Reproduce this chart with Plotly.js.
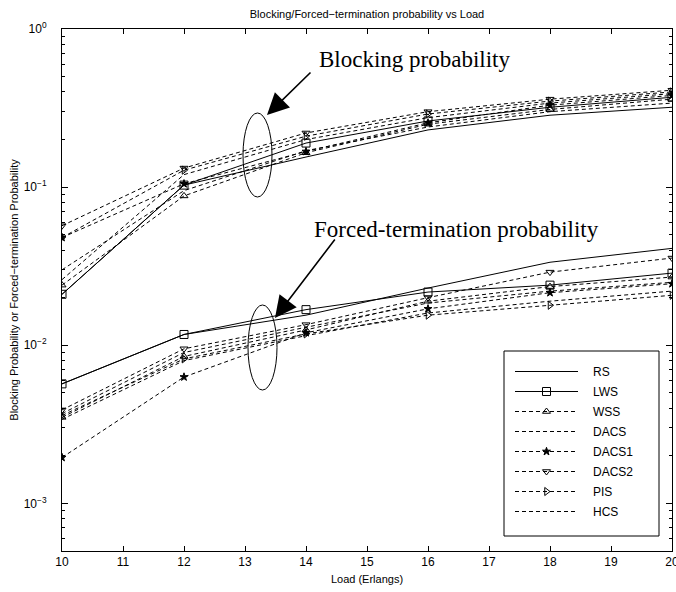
<!DOCTYPE html>
<html>
<head>
<meta charset="utf-8">
<script src="https://cdn.plot.ly/plotly-3.0.1.min.js"></script>
<style>html,body{margin:0;padding:0;background:#fff;}#chart{width:676px;height:592px;}</style>
</head>
<body>
<div id="chart"></div>
<script>
// ---- data ----
var load = [10, 12, 14, 16, 18, 20];
var schemes = ['RS', 'LWS', 'WSS', 'DACS', 'DACS1', 'DACS2', 'PIS', 'HCS'];

// Blocking probability
var blockRS    = [0.021, 0.103, 0.155, 0.230, 0.285, 0.320];
var blockLWS   = [0.021, 0.103, 0.190, 0.262, 0.320, 0.370];
var blockWSS   = [0.024, 0.088, 0.165, 0.250, 0.310, 0.360];
var blockDACS  = [0.030, 0.095, 0.170, 0.240, 0.300, 0.340];
var blockDACS1 = [0.048, 0.105, 0.168, 0.255, 0.330, 0.380];
var blockDACS2 = [0.057, 0.132, 0.220, 0.300, 0.360, 0.410];
var blockPIS   = [0.048, 0.128, 0.210, 0.290, 0.350, 0.400];
var blockHCS   = [0.026, 0.120, 0.200, 0.275, 0.340, 0.390];

// Forced-termination probability
var forcedRS    = [0.0057, 0.0117, 0.0155, 0.0230, 0.0335, 0.0410];
var forcedLWS   = [0.0057, 0.0117, 0.0168, 0.0217, 0.0240, 0.0286];
var forcedWSS   = [0.0035, 0.0085, 0.0125, 0.0190, 0.0235, 0.0270];
var forcedDACS  = [0.0037, 0.0090, 0.0130, 0.0185, 0.0220, 0.0250];
var forcedDACS1 = [0.00195, 0.0063, 0.0120, 0.0170, 0.0215, 0.0245];
var forcedDACS2 = [0.0039, 0.0095, 0.0135, 0.0200, 0.0290, 0.0356];
var forcedPIS   = [0.0036, 0.0082, 0.0118, 0.0155, 0.0179, 0.0207];
var forcedHCS   = [0.0034, 0.0080, 0.0115, 0.0160, 0.0190, 0.0220];

var yTickVals = [0.001, 0.01, 0.1, 1];
var yTickText = ['10<sup>\u22123</sup>', '10<sup>\u22122</sup>', '10<sup>\u22121</sup>', '10<sup>0</sup>'];
var xTickVals = [10, 11, 12, 13, 14, 15, 16, 17, 18, 19, 20];

// ---- styles ----
var DASH = '4px,3px';
var styles = {
  RS:    {dash: 'solid', symbol: null, size: 7},
  LWS:   {dash: 'solid', symbol: 'square-open', size: 8},
  WSS:   {dash: DASH, symbol: 'triangle-up-open', size: 7},
  DACS:  {dash: DASH, symbol: null, size: 7},
  DACS1: {dash: DASH, symbol: 'star', size: 6},
  DACS2: {dash: DASH, symbol: 'triangle-down-open', size: 7},
  PIS:   {dash: DASH, symbol: 'triangle-right-open', size: 7},
  HCS:   {dash: DASH, symbol: null, size: 7}
};
var blockSeries = [blockRS, blockLWS, blockWSS, blockDACS, blockDACS1, blockDACS2, blockPIS, blockHCS];
var forcedSeries = [forcedRS, forcedLWS, forcedWSS, forcedDACS, forcedDACS1, forcedDACS2, forcedPIS, forcedHCS];

var NB = '\u00a0\u00a0\u00a0';
function mk(name, ys, show) {
  var st = styles[name];
  var t = {
    x: load, y: ys, name: NB + name + NB + NB + NB, legendgroup: name, showlegend: show,
    type: 'scatter',
    mode: st.symbol ? 'lines+markers' : 'lines',
    line: {color: '#000', width: 1, dash: st.dash}
  };
  if (st.symbol) t.marker = {symbol: st.symbol, size: st.size, color: '#000', line: {color: '#000', width: 1}};
  return t;
}
var traces = [];
schemes.forEach(function (s, i) { traces.push(mk(s, blockSeries[i], true)); });
schemes.forEach(function (s, i) { traces.push(mk(s, forcedSeries[i], false)); });

var W = 676, H = 592, L = 62, R = 4, T = 29, B = 41;
var pw = W - L - R, ph = H - T - B;
function px(x) { return (x - L) / pw; }
function py(y) { return (H - B - y) / ph; }

var axisFont = {family: 'Liberation Sans, Arial, sans-serif', size: 12, color: '#000'};
var layout = {
  width: W, height: H,
  margin: {l: L, r: R, t: T, b: B},
  paper_bgcolor: '#fff', plot_bgcolor: '#fff',
  font: {family: 'Liberation Sans, Arial, sans-serif', size: 11, color: '#000'},
  title: {text: 'Blocking/Forced\u2212termination probability vs Load',
          font: {family: 'Liberation Sans, Arial, sans-serif', size: 11, color: '#000'},
          x: (L + pw / 2) / W, xanchor: 'center', y: 1 - 14 / H, yanchor: 'middle', yref: 'container'},
  xaxis: {
    range: [10, 20], tickvals: xTickVals, ticks: 'inside', ticklen: 5, tickcolor: '#000',
    showline: true, linecolor: '#000', linewidth: 1, mirror: 'ticks', showgrid: false, zeroline: false,
    tickfont: axisFont, ticklabeloverflow: 'allow',
    title: {text: 'Load (Erlangs)', font: {family: 'Liberation Sans, Arial, sans-serif', size: 11, color: '#000'}, standoff: 6}
  },
  yaxis: {
    type: 'log', range: [Math.log10(5e-4), 0],
    tickvals: yTickVals, ticktext: yTickText, ticks: 'inside', ticklen: 6, tickcolor: '#000',
    showline: true, linecolor: '#000', linewidth: 1, mirror: 'ticks', showgrid: false, zeroline: false,
    tickfont: axisFont, ticklabelstandoff: 12,
    minor: {ticks: 'inside', ticklen: 3, tickcolor: '#000', showgrid: false,
            tickvals: [6e-4, 7e-4, 8e-4, 9e-4, 2e-3, 3e-3, 4e-3, 5e-3, 6e-3, 7e-3, 8e-3, 9e-3,
                       2e-2, 3e-2, 4e-2, 5e-2, 6e-2, 7e-2, 8e-2, 9e-2, 0.2, 0.3, 0.4, 0.5, 0.6, 0.7, 0.8, 0.9]},
    title: {text: 'Blocking Probability or Forced\u2212termination Probability',
            font: {family: 'Liberation Sans, Arial, sans-serif', size: 11, color: '#000'}, standoff: 2}
  },
  legend: {
    x: px(510), y: py(357), xanchor: 'left', yanchor: 'top',
    bgcolor: 'rgba(0,0,0,0)', borderwidth: 0,
    font: {family: 'Liberation Sans, Arial, sans-serif', size: 12, color: '#000'},
    itemwidth: 63, tracegroupgap: 1
  },
  shapes: [
    {type: 'rect', xref: 'paper', yref: 'paper', x0: px(504), x1: px(659), y0: py(536), y1: py(351),
     line: {color: '#000', width: 1}, fillcolor: '#fff', layer: 'above'},
    {type: 'circle', xref: 'paper', yref: 'paper', x0: px(243), x1: px(272), y0: py(197), y1: py(113),
     line: {color: '#000', width: 1}},
    {type: 'circle', xref: 'paper', yref: 'paper', x0: px(248), x1: px(277), y0: py(390), y1: py(305),
     line: {color: '#000', width: 1}}
  ],
  annotations: [
    {text: 'Blocking probability', xref: 'paper', yref: 'paper', x: px(317), y: py(60),
     xanchor: 'left', yanchor: 'middle', showarrow: false,
     font: {family: 'Liberation Serif, Times New Roman, serif', size: 23, color: '#000'}},
    {text: 'Forced-termination probability', xref: 'paper', yref: 'paper', x: px(312), y: py(229),
     xanchor: 'left', yanchor: 'middle', showarrow: false,
     font: {family: 'Liberation Serif, Times New Roman, serif', size: 23, color: '#000'}},
    {text: '', xref: 'paper', yref: 'paper', x: px(267), y: py(115), ax: 45, ay: -44,
     showarrow: true, arrowhead: 2, arrowsize: 2.7, arrowwidth: 1.6, arrowcolor: '#000'},
    {text: '', xref: 'paper', yref: 'paper', x: px(275), y: py(318), ax: 61, ay: -80,
     showarrow: true, arrowhead: 2, arrowsize: 2.7, arrowwidth: 1.6, arrowcolor: '#000'}
  ]
};

Plotly.newPlot('chart', traces, layout, {displayModeBar: false, staticPlot: true});
</script>
</body>
</html>
